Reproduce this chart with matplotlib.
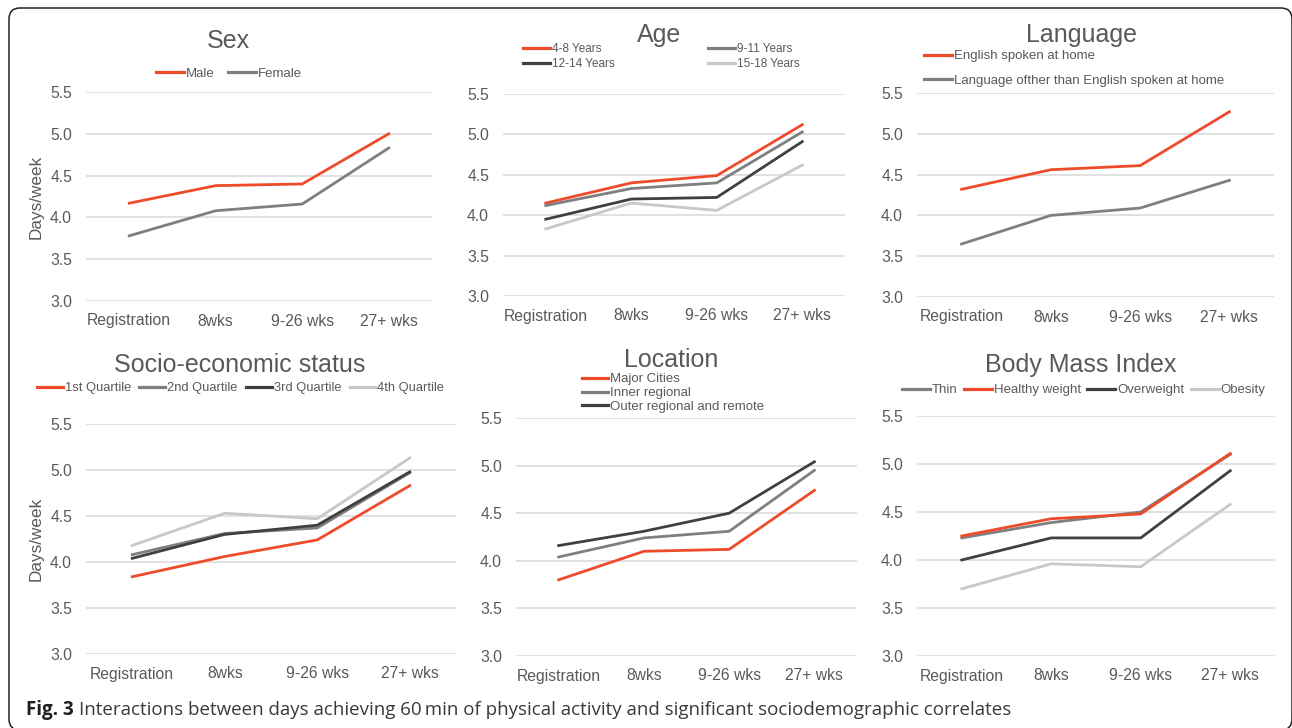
import matplotlib
matplotlib.use("Agg")
import matplotlib.pyplot as plt
from matplotlib.patches import FancyBboxPatch
from matplotlib.transforms import IdentityTransform

# ---- data -------------------------------------------------------------
periods = ["Registration", "8wks", "9-26 wks", "27+ wks"]
yticks = [3.0, 3.5, 4.0, 4.5, 5.0, 5.5]

sex_labels = ["Male", "Female"]
sex_male = [4.17, 4.38, 4.40, 5.00]
sex_female = [3.78, 4.08, 4.16, 4.83]

age_labels = ["4-8 Years", "9-11 Years", "12-14 Years", "15-18 Years"]
age_4_8 = [4.15, 4.40, 4.49, 5.12]
age_9_11 = [4.12, 4.33, 4.40, 5.03]
age_12_14 = [3.95, 4.20, 4.22, 4.91]
age_15_18 = [3.83, 4.15, 4.06, 4.62]

lang_labels = ["English spoken at home",
               "Language ofther than English spoken at home"]
lang_english = [4.32, 4.56, 4.61, 5.27]
lang_other = [3.65, 4.00, 4.09, 4.43]

ses_labels = ["1st Quartile", "2nd Quartile", "3rd Quartile", "4th Quartile"]
ses_q1 = [3.84, 4.06, 4.24, 4.83]
ses_q2 = [4.08, 4.31, 4.37, 4.97]
ses_q3 = [4.04, 4.30, 4.40, 4.98]
ses_q4 = [4.18, 4.53, 4.47, 5.13]

loc_labels = ["Major Cities", "Inner regional", "Outer regional and remote"]
loc_major = [3.80, 4.10, 4.12, 4.74]
loc_inner = [4.04, 4.24, 4.31, 4.95]
loc_outer = [4.16, 4.31, 4.50, 5.04]

bmi_labels = ["Thin", "Healthy weight", "Overweight", "Obesity"]
bmi_thin = [4.23, 4.39, 4.50, 5.10]
bmi_healthy = [4.25, 4.43, 4.48, 5.11]
bmi_over = [4.00, 4.23, 4.23, 4.93]
bmi_obese = [3.70, 3.96, 3.93, 4.58]

caption_bold = "Fig. 3"
caption_text = ("Interactions between days achieving 60\u2009min of physical "
                "activity and significant sociodemographic correlates")

# ---- style ------------------------------------------------------------
RED = "#EE4B2B"
MID = "#7F7F7F"
DARK = "#404040"
LIGHT = "#C8C8C8"
GRID = "#D9D9D9"
TXT = "#595959"

plt.rcParams["font.family"] = ["Liberation Sans", "DejaVu Sans"]

W, H = 1292, 728
fig = plt.figure(figsize=(W / 100, H / 100), dpi=100)
fig.patch.set_facecolor("white")


def fx(px):
    return px / W


def fy(py):
    return 1 - py / H


def make_axes(x0, x1, ytop, ybot):
    ax = fig.add_axes([fx(x0), fy(ybot), fx(x1 - x0), (ybot - ytop) / H])
    ax.set_xlim(-0.5, len(periods) - 0.5)
    ax.set_ylim(3.0, 5.5)
    ax.set_xticks(range(len(periods)))
    ax.set_xticklabels(periods)
    ax.set_yticks(yticks)
    ax.set_yticklabels([f"{t:.1f}" for t in yticks])
    ax.tick_params(length=0, labelsize=11.3, colors=TXT)
    ax.tick_params(axis="y", pad=10)
    ax.tick_params(axis="x", pad=9)
    for s in ax.spines.values():
        s.set_visible(False)
    ax.grid(axis="y", color=GRID, lw=1.1)
    ax.set_axisbelow(True)
    return ax


def plot_series(ax, series, colors, labels):
    handles = []
    for vals, c, lab in zip(series, colors, labels):
        h, = ax.plot(range(len(periods)), vals, color=c, lw=2.0,
                     solid_joinstyle="miter", label=lab, clip_on=False)
        handles.append(h)
    return handles


def title(text, cx, base):
    fig.text(fx(cx), fy(base), text, ha="center", va="baseline",
             fontsize=18, color=TXT)


def legend(ax, handles, labels, anchor, loc, fs, **kw):
    opts = dict(frameon=False, borderpad=0, borderaxespad=0,
                handlelength=2.1, handletextpad=0.15, fontsize=fs,
                labelcolor=TXT)
    opts.update(kw)
    leg = ax.legend(handles, labels, loc=loc,
                    bbox_to_anchor=(fx(anchor[0]), fy(anchor[1])),
                    bbox_transform=fig.transFigure, **opts)
    for ln in leg.get_lines():
        ln.set_linewidth(2.3)
    return leg


# Sex
ax = make_axes(86, 432, 92, 301)
hs = plot_series(ax, [sex_male, sex_female], [RED, MID], sex_labels)
title("Sex", 228, 48)
legend(ax, hs, sex_labels, (229, 74), "center", 9.5, ncol=2,
       columnspacing=1.0)
fig.text(fx(36), fy(196.5), "Days/week", rotation=90, ha="center",
         va="center", fontsize=12.3, color=TXT)

# Age
ax = make_axes(503, 845, 94, 296)
hs = plot_series(ax, [age_4_8, age_9_11, age_12_14, age_15_18],
                 [RED, MID, DARK, LIGHT], age_labels)
title("Age", 659, 42)
order = [0, 2, 1, 3]
legend(ax, [hs[i] for i in order], [age_labels[i] for i in order],
       (523, 56.5), "center left", 8.5, ncol=2, columnspacing=7.9,
       handlelength=2.3, labelspacing=0.3)

# Language
ax = make_axes(917, 1274, 93, 297)
hs = plot_series(ax, [lang_english, lang_other], [RED, MID], lang_labels)
title("Language", 1081, 42)
legend(ax, hs, lang_labels, (924, 68.5), "center left", 9.5,
       labelspacing=0.95)

# Socio-economic status
ax = make_axes(86, 456, 424, 654)
hs = plot_series(ax, [ses_q1, ses_q2, ses_q3, ses_q4],
                 [RED, MID, DARK, LIGHT], ses_labels)
title("Socio-economic status", 240, 372)
legend(ax, hs, ses_labels, (37, 388), "center left", 9.3, ncol=4,
       columnspacing=0.65, handlelength=2.0)
fig.text(fx(36), fy(539), "Days/week", rotation=90, ha="center",
         va="center", fontsize=12.3, color=TXT)

# Location
ax = make_axes(516, 857, 418, 656)
hs = plot_series(ax, [loc_major, loc_inner, loc_outer],
                 [RED, MID, DARK], loc_labels)
title("Location", 671, 367)
legend(ax, hs, loc_labels, (582, 393), "center left", 9.5,
       labelspacing=0.12, handlelength=2.0)

# Body Mass Index
ax = make_axes(917, 1275, 416, 656)
hs = plot_series(ax, [bmi_thin, bmi_healthy, bmi_over, bmi_obese],
                 [MID, RED, DARK, LIGHT], bmi_labels)
title("Body Mass Index", 1081, 372)
legend(ax, hs, bmi_labels, (902, 390), "center left", 9.5, ncol=4,
       columnspacing=0.5)

# Rounded outer frame
frame = FancyBboxPatch((9, -2), 1283, 722,
                       boxstyle="round,pad=0,rounding_size=11",
                       transform=IdentityTransform(), fill=False,
                       ec="#222222", lw=1.1)
fig.patches.append(frame)

# Caption
renderer = fig.canvas.get_renderer()
cb = fig.text(fx(26), fy(715), caption_bold, ha="left", va="baseline",
              fontsize=13.5, fontweight="bold", color="#231F20",
              family=["Open Sans", "DejaVu Sans"])
ext = cb.get_window_extent(renderer)
fig.text((ext.x1 + 5) / W, fy(715), caption_text, ha="left", va="baseline",
         fontsize=13.5, color="#3A3A3A", family=["Open Sans", "DejaVu Sans"])

fig.savefig("out.png", dpi=100, facecolor="white")
